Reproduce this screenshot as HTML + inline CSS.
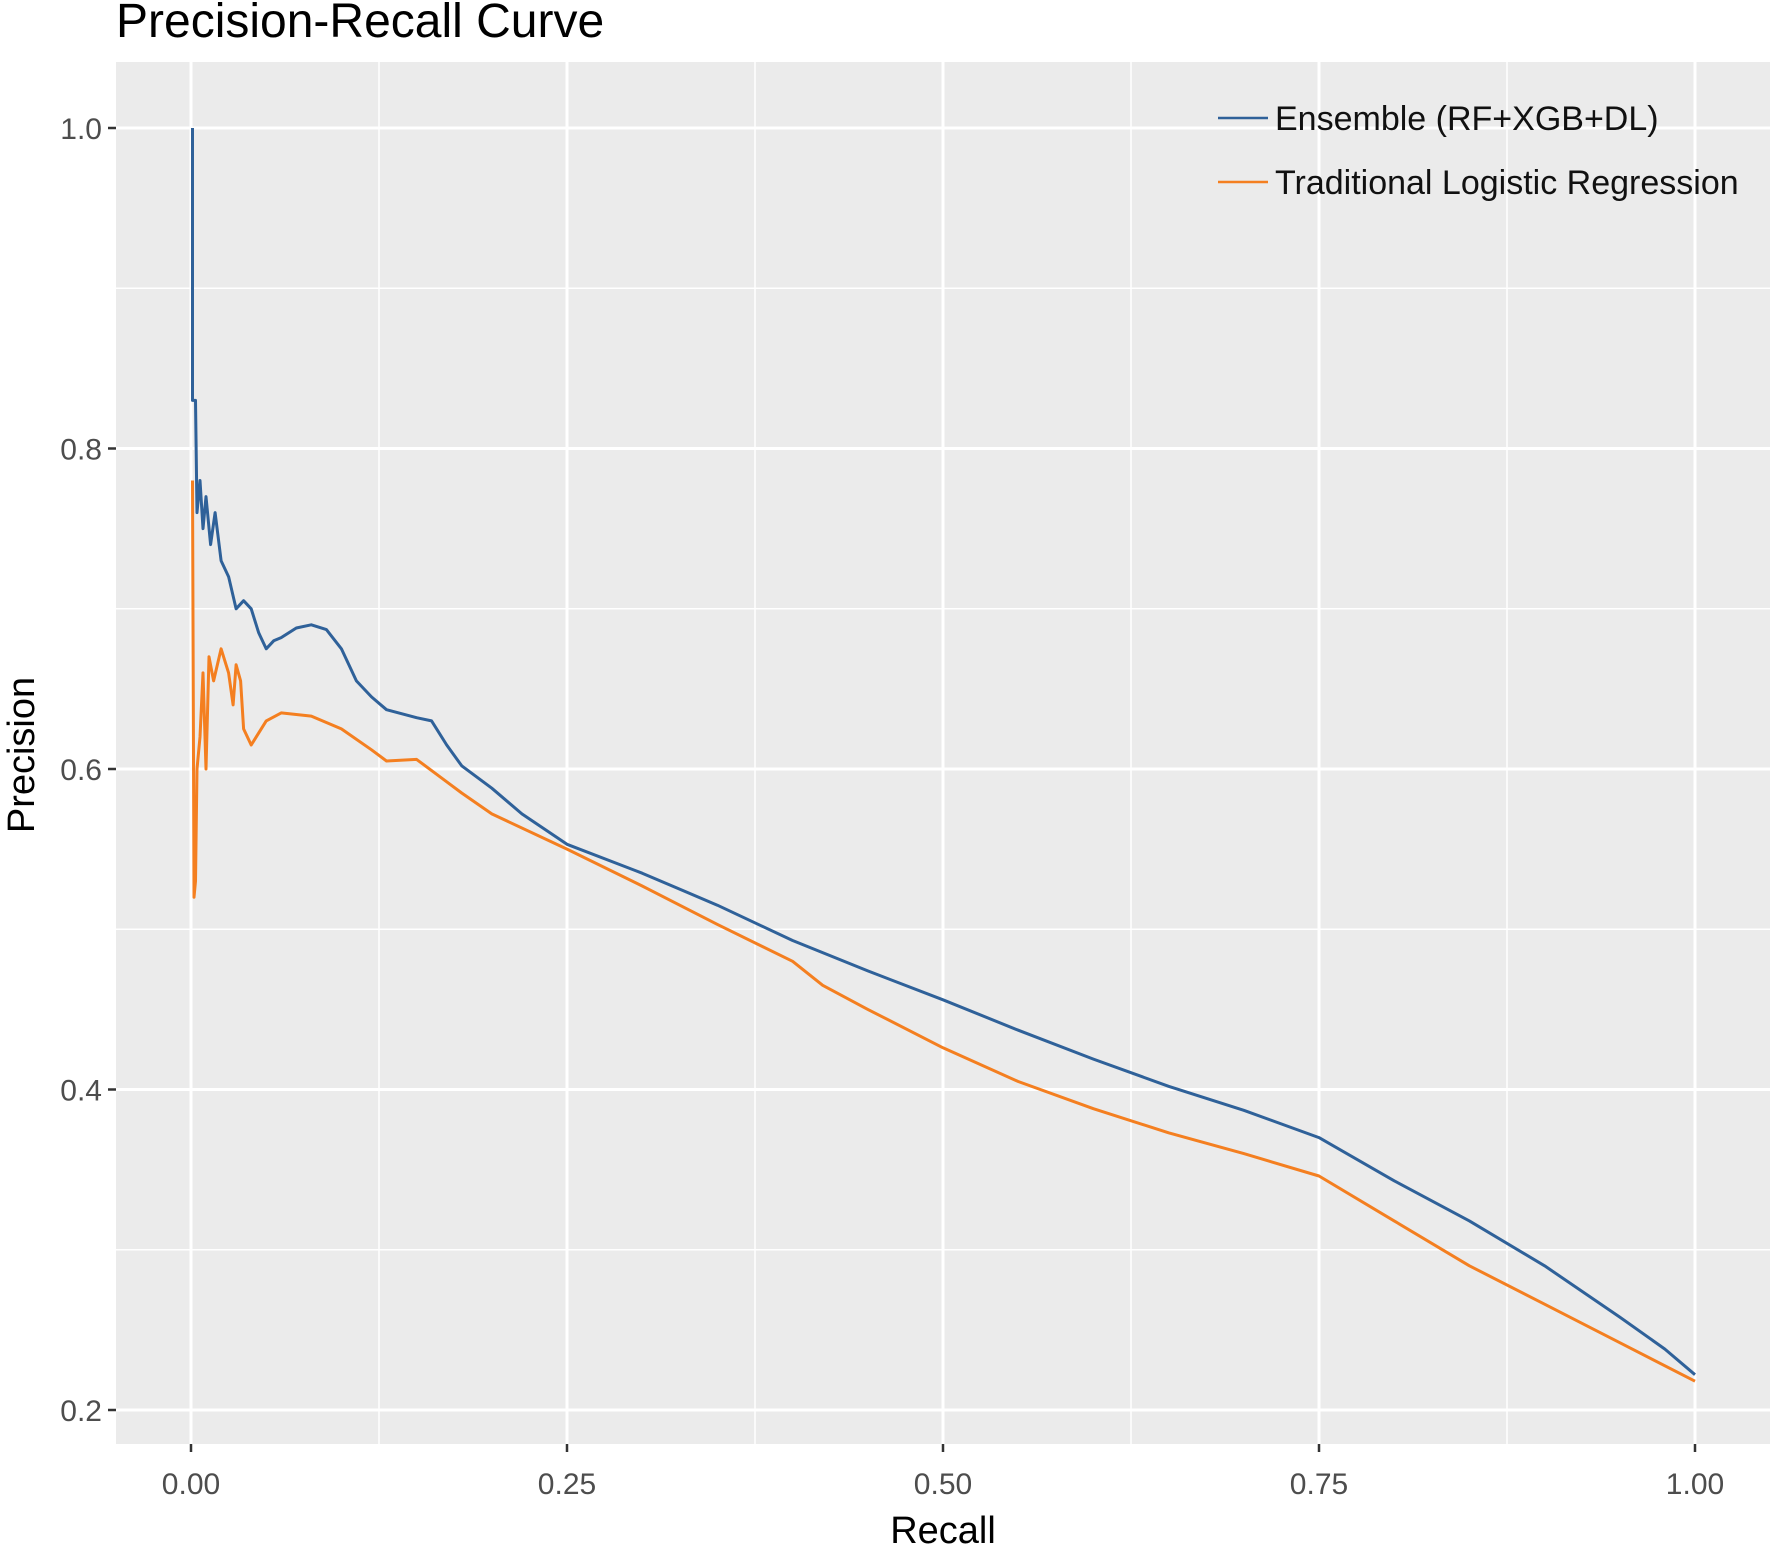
<!DOCTYPE html>
<html><head><meta charset="utf-8"><style>
html,body{margin:0;padding:0;background:#fff;}
svg{display:block;font-family:"Liberation Sans",Arial,sans-serif;}
</style></head><body>
<svg id="chart" width="1772" height="1548" viewBox="0 0 1772 1548" xmlns="http://www.w3.org/2000/svg">
<text x="116" y="37" font-size="48" fill="#000">Precision-Recall Curve</text>
<rect x="116" y="62" width="1654" height="1382" fill="#EBEBEB"/>
<g id="grid"></g>
<g id="axes"></g>
<g id="series"></g>
<text x="943" y="1543" font-size="38" text-anchor="middle" fill="#000">Recall</text>
<text transform="translate(34,755) rotate(-90)" font-size="38" text-anchor="middle" fill="#000">Precision</text>
<g>
<line x1="1218" y1="118" x2="1268" y2="118" stroke="#2F6199" stroke-width="2.5"/>
<text x="1275" y="130" font-size="34" fill="#111">Ensemble (RF+XGB+DL)</text>
<line x1="1218" y1="182" x2="1268" y2="182" stroke="#F47F20" stroke-width="2.5"/>
<text x="1275" y="194" font-size="34" fill="#111">Traditional Logistic Regression</text>
</g>
</svg>
<script>
const xTicks=[0,0.25,0.5,0.75,1.0];
const xTickLabels=["0.00","0.25","0.50","0.75","1.00"];
const yTicks=[0.2,0.4,0.6,0.8,1.0];
const yTickLabels=["0.2","0.4","0.6","0.8","1.0"];
const ensRecall=[0.001,0.001,0.003,0.004,0.006,0.008,0.01,0.013,0.016,0.02,0.025,0.03,0.035,0.04,0.045,0.05,0.055,0.06,0.07,0.08,0.09,0.1,0.11,0.12,0.13,0.15,0.16,0.17,0.18,0.2,0.22,0.25,0.3,0.35,0.4,0.45,0.5,0.55,0.6,0.65,0.7,0.75,0.8,0.85,0.9,0.95,0.98,1.0];
const ensPrecision=[1.0,0.83,0.83,0.76,0.78,0.75,0.77,0.74,0.76,0.73,0.72,0.70,0.705,0.70,0.685,0.675,0.68,0.682,0.688,0.69,0.687,0.675,0.655,0.645,0.637,0.632,0.63,0.615,0.602,0.588,0.572,0.553,0.535,0.515,0.493,0.474,0.456,0.437,0.419,0.402,0.387,0.370,0.343,0.318,0.29,0.258,0.238,0.222];
const lrRecall=[0.001,0.002,0.003,0.004,0.006,0.008,0.01,0.012,0.015,0.02,0.025,0.028,0.03,0.033,0.035,0.04,0.05,0.06,0.08,0.1,0.12,0.13,0.15,0.17,0.18,0.2,0.25,0.3,0.35,0.4,0.42,0.45,0.5,0.55,0.6,0.65,0.7,0.75,0.8,0.85,0.9,0.95,1.0];
const lrPrecision=[0.78,0.52,0.53,0.60,0.62,0.66,0.60,0.67,0.655,0.675,0.66,0.64,0.665,0.655,0.625,0.615,0.63,0.635,0.633,0.625,0.612,0.605,0.606,0.592,0.585,0.572,0.55,0.527,0.503,0.48,0.465,0.45,0.426,0.405,0.388,0.373,0.36,0.346,0.318,0.29,0.266,0.242,0.218];

const NS="http://www.w3.org/2000/svg";
const X0=191,X1=1695,Y02=1410,Y10=128;
function sx(v){return X0+(v-0)*(X1-X0);}
function sy(v){return Y02+(v-0.2)/0.8*(Y10-Y02);}
function mk(tag,attrs,parent){const e=document.createElementNS(NS,tag);for(const k in attrs)e.setAttribute(k,attrs[k]);parent.appendChild(e);return e;}
const grid=document.getElementById('grid'),axes=document.getElementById('axes'),series=document.getElementById('series');
for(let i=0;i<xTicks.length-1;i++){
  const m=(xTicks[i]+xTicks[i+1])/2;
  const l=mk('line',{x1:sx(m),x2:sx(m),y1:62,y2:1444,stroke:'#fff','stroke-width':1.5},grid);
  
  
}
for(let i=0;i<yTicks.length-1;i++){
  const m=(yTicks[i]+yTicks[i+1])/2;
  const l=mk('line',{x1:116,x2:1770,y1:sy(m),y2:sy(m),stroke:'#fff','stroke-width':1.5},grid);
  
  
}
xTicks.forEach((v,i)=>{
  const l=mk('line',{x1:sx(v),x2:sx(v),y1:62,y2:1444,stroke:'#fff','stroke-width':3},grid);
  
  
  const t=mk('line',{x1:sx(v),x2:sx(v),y1:1444,y2:1452,stroke:'#333','stroke-width':2.5},axes);
  
  
  const tx=mk('text',{x:sx(v),y:1494,'font-size':30,'text-anchor':'middle',fill:'#4D4D4D'},axes);
  tx.textContent=xTickLabels[i];
  
  
});
yTicks.forEach((v,i)=>{
  const l=mk('line',{x1:116,x2:1770,y1:sy(v),y2:sy(v),stroke:'#fff','stroke-width':3},grid);
  
  
  const t=mk('line',{x1:108,x2:116,y1:sy(v),y2:sy(v),stroke:'#333','stroke-width':2.5},axes);
  
  
  const tx=mk('text',{x:102,y:sy(v)+11,'font-size':30,'text-anchor':'end',fill:'#4D4D4D'},axes);
  tx.textContent=yTickLabels[i];
  
  
});
function pathFor(rx,py){
  let d='';
  for(let i=0;i<rx.length;i++){d+=(i?'L':'M')+sx(rx[i]).toFixed(1)+','+sy(py[i]).toFixed(1);}
  return d;
}
const pl=mk('path',{d:pathFor(lrRecall,lrPrecision),fill:'none',stroke:'#F47F20','stroke-width':3,'stroke-linejoin':'round'},series);


const pe=mk('path',{d:pathFor(ensRecall,ensPrecision),fill:'none',stroke:'#2F6199','stroke-width':3,'stroke-linejoin':'round'},series);


</script>
</body></html>
